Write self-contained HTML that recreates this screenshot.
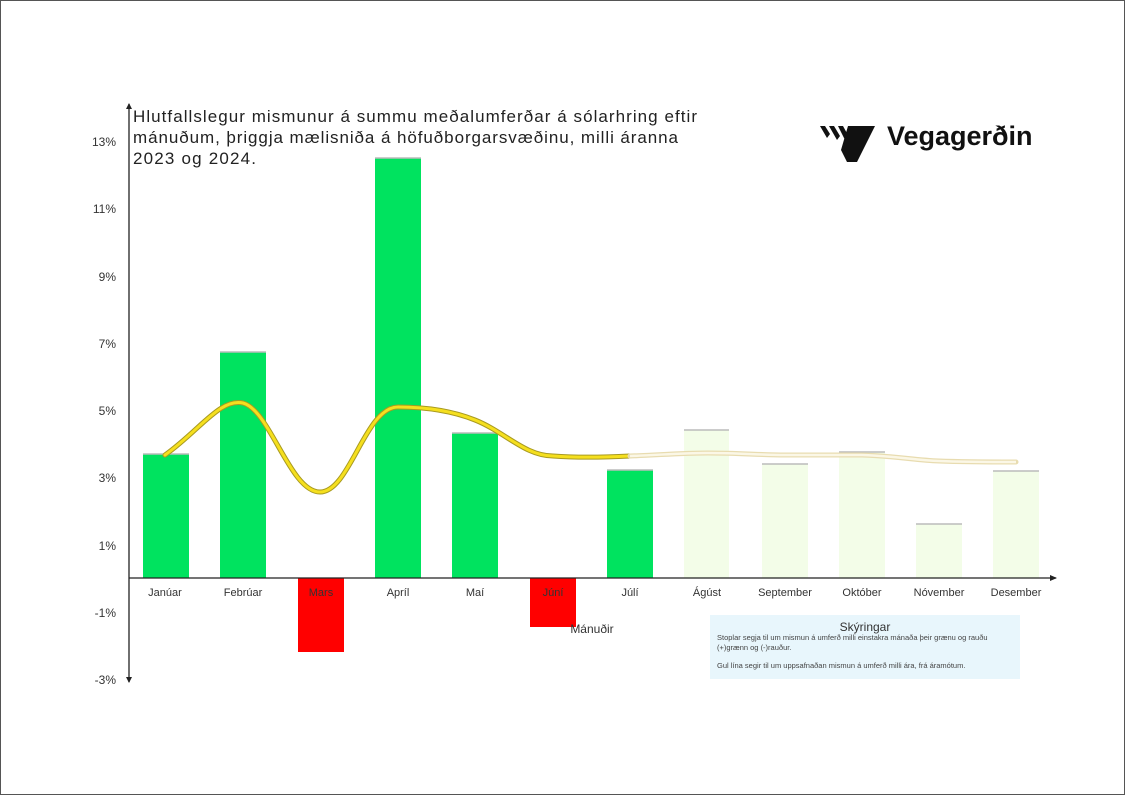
<!DOCTYPE html>
<html><head><meta charset="utf-8"><style>
body{margin:0;background:#fff}
svg{display:block}
text{font-family:"Liberation Sans",sans-serif}
</style></head><body>
<svg width="1125" height="795" viewBox="0 0 1125 795">
<rect x="0.5" y="0.5" width="1124" height="794" fill="#fff" stroke="#555"/>
<g font-size="12" fill="#333" text-anchor="end">
<text x="116" y="146">13%</text><text x="116" y="213">11%</text><text x="116" y="281">9%</text>
<text x="116" y="348">7%</text><text x="116" y="415">5%</text><text x="116" y="482">3%</text>
<text x="116" y="550">1%</text><text x="116" y="617">-1%</text><text x="116" y="684">-3%</text>
</g>
<g fill="#00e35f">
<rect x="143" y="454" width="46" height="124"/><rect x="220" y="352" width="46" height="226"/>
<rect x="375" y="158" width="46" height="420"/><rect x="452" y="433" width="46" height="145"/>
<rect x="607" y="470" width="46" height="108"/>
</g>
<g fill="#ff0000"><rect x="298" y="578" width="46" height="74"/><rect x="530" y="578" width="46" height="49"/></g>
<g fill="#f3fde8"><rect x="684" y="430" width="45" height="148"/><rect x="762" y="464" width="46" height="114"/>
<rect x="839" y="452" width="46" height="126"/><rect x="916" y="524" width="46" height="54"/><rect x="993" y="471" width="46" height="107"/></g>
<g stroke="#bbb" stroke-width="1.5"><line x1="684" y1="430" x2="729" y2="430"/><line x1="762" y1="464" x2="808" y2="464"/><line x1="839" y1="452" x2="885" y2="452"/><line x1="916" y1="524" x2="962" y2="524"/><line x1="993" y1="471" x2="1039" y2="471"/><line x1="607" y1="470" x2="653" y2="470"/><line x1="375" y1="158" x2="421" y2="158"/><line x1="220" y1="352" x2="266" y2="352"/><line x1="452" y1="433" x2="498" y2="433"/><line x1="143" y1="454" x2="189" y2="454"/></g>
<path d="M165,455 C200,430 220,398 243,403 C270,410 290,492 320,492 C350,492 365,407 398,407 C430,407 455,412 475,420 C505,432 525,456 553,456 C580,458 610,457 630,456" fill="none" stroke="#a89a20" stroke-width="5" stroke-linecap="round"/>
<path d="M165,455 C200,430 220,398 243,403 C270,410 290,492 320,492 C350,492 365,407 398,407 C430,407 455,412 475,420 C505,432 525,456 553,456 C580,458 610,457 630,456" fill="none" stroke="#f5df1e" stroke-width="3" stroke-linecap="round"/>
<path d="M630,456 C660,455 680,453 708,453 C740,453 760,455 785,455 C820,455 840,455 862,455 C895,456 915,460 939,461 C965,462 990,462 1016,462" fill="none" stroke="#e8dcb0" stroke-width="5" stroke-linecap="round"/>
<path d="M630,456 C660,455 680,453 708,453 C740,453 760,455 785,455 C820,455 840,455 862,455 C895,456 915,460 939,461 C965,462 990,462 1016,462" fill="none" stroke="#fbf7e6" stroke-width="2.5"/>
<line x1="129" y1="104" x2="129" y2="682" stroke="#222" stroke-width="1.3"/>
<path d="M126,109 L129,103 L132,109Z M126,677 L129,683 L132,677Z" fill="#222"/>
<line x1="129" y1="578" x2="1056" y2="578" stroke="#222" stroke-width="1.3"/>
<path d="M1050,575 L1057,578 L1050,581Z" fill="#222"/>
<g font-size="11" fill="#333" text-anchor="middle">
<text x="165" y="596">Janúar</text><text x="243" y="596">Febrúar</text><text x="321" y="596">Mars</text>
<text x="398" y="596">Apríl</text><text x="475" y="596">Maí</text><text x="553" y="596">Júní</text>
<text x="630" y="596">Júlí</text><text x="707" y="596">Ágúst</text><text x="785" y="596">September</text>
<text x="862" y="596">Október</text><text x="939" y="596">Nóvember</text><text x="1016" y="596">Desember</text>
<text x="592" y="633" font-size="12">Mánuðir</text>
</g>
<g font-size="17" fill="#222"><text x="133" y="122" textLength="564" lengthAdjust="spacing">Hlutfallslegur mismunur á summu meðalumferðar á sólarhring eftir</text>
<text x="133" y="143" textLength="545" lengthAdjust="spacing">mánuðum, þriggja mælisniða á höfuðborgarsvæðinu, milli áranna</text>
<text x="133" y="164" textLength="123" lengthAdjust="spacing">2023 og 2024.</text></g>
<g fill="#111"><path d="M820,126 l5,0 l5,8 l-3,4Z M829,126 l5,0 l6,10 l-3,4Z M838,126 l5,0 l6,11 l-3,5Z M848,126 l27,0 l-18,36 l-10,0 l-6,-12Z"/></g>
<text x="887" y="145" font-size="27" font-weight="bold" fill="#111">Vegagerðin</text>
<rect x="710" y="615" width="310" height="64" fill="#e8f6fc"/>
<text x="865" y="631" font-size="12" fill="#333" text-anchor="middle">Skýringar</text>
<g font-size="7.5" fill="#444"><text x="717" y="640">Stoplar segja til um mismun á umferð milli einstakra mánaða  þeir grænu og rauðu</text>
<text x="717" y="650">(+)grænn og (-)rauður.</text>
<text x="717" y="668">Gul lína segir til um uppsafnaðan mismun á umferð milli ára, frá áramótum.</text></g>
</svg>
</body></html>
